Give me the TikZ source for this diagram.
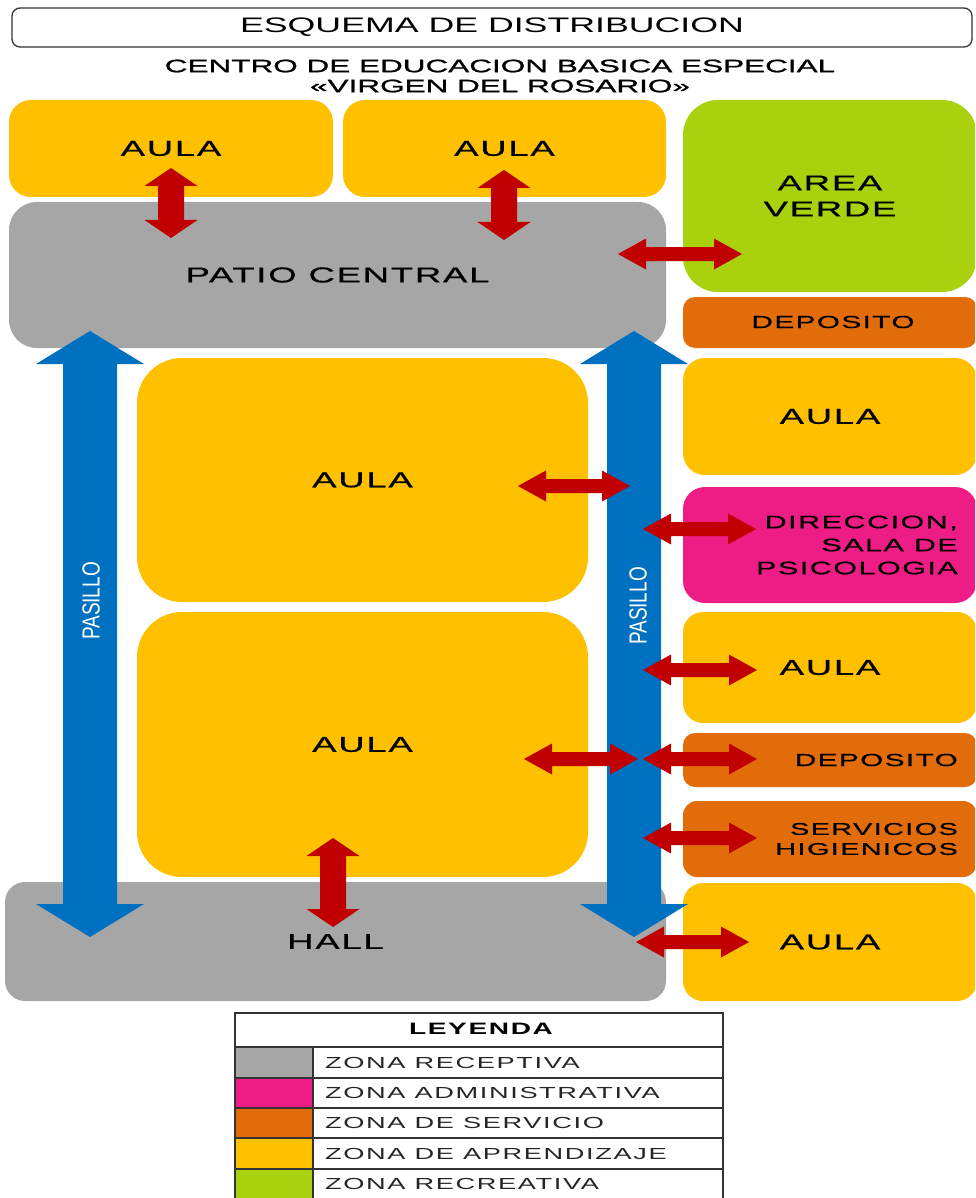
\documentclass[tikz,border=0pt]{standalone}
\usepackage{fontspec}
\setmainfont{Liberation Sans}
\newfontfamily\ttlfont[FakeStretch=1.7]{Liberation Sans}
\newfontfamily\subfont[FakeStretch=1.75,FakeBold=1.2]{Liberation Sans}
\newfontfamily\lblfont[FakeStretch=1.7,LetterSpace=8,FakeBold=0.6]{Liberation Sans}
\newfontfamily\legfont[FakeStretch=1.7,LetterSpace=10]{Liberation Sans}
\usetikzlibrary{calc}
\definecolor{aulaY}{HTML}{FFC000}
\definecolor{recG}{HTML}{A6A6A6}
\definecolor{verdeG}{HTML}{A9D10E}
\definecolor{servO}{HTML}{E36C0A}
\definecolor{adminP}{HTML}{EE1D85}
\definecolor{pasB}{HTML}{0070C0}
\definecolor{flechaR}{HTML}{C00000}
\definecolor{lineD}{HTML}{333333}
\newcommand\dblarrow[6][]{%
  \coordinate (h1) at ($(#2)!#4!(#3)$);
  \coordinate (h2) at ($(#3)!#4!(#2)$);
  \fill[#1] (#2) -- ($(h1)!#5!90:(#3)$) -- ($(h1)!#6!90:(#3)$) -- ($(h2)!#6!-90:(#2)$) -- ($(h2)!#5!-90:(#2)$) -- (#3)
    -- ($(h2)!#5!90:(#2)$) -- ($(h2)!#6!90:(#2)$) -- ($(h1)!#6!-90:(#3)$) -- ($(h1)!#5!-90:(#3)$) -- cycle;
}
\tikzset{
  room/.style={fill=#1, inner sep=0pt, text=black, font=\lblfont\fontsize{21.5}{26}\selectfont, align=center},
  lbl/.style={inner sep=0pt, text=black, font=\lblfont\fontsize{#1}{#1}\selectfont},
  pasillotxt/.style={rotate=90, text=white, inner sep=0pt, font=\fontsize{19}{19}\selectfont},
  legtxt/.style={anchor=west, inner sep=0pt, text=black!85, font=\legfont\fontsize{16}{16}\selectfont},
  legline/.style={draw=lineD, line width=1.8pt},
  redarrow/.style={fill=flechaR},
  bluearrow/.style={fill=pasB}
}
\begin{document}
\begin{tikzpicture}[x=1pt,y=-1pt]
\clip (0,0) rectangle (975,1198);
% title
\node[draw=lineD, line width=1.3pt, rounded corners=8pt, minimum width=960pt, minimum height=39pt, inner sep=0pt,
      font=\ttlfont\fontsize{21}{25}\selectfont] (title) at (492,27.5) {ESQUEMA DE DISTRIBUCION};
\node[align=center, inner sep=0pt, font=\subfont\fontsize{18}{20}\selectfont] (sub) at (500,76)
  {CENTRO DE EDUCACION BASICA ESPECIAL\\«VIRGEN DEL ROSARIO»};
% rooms
\node[room=aulaY, rounded corners=22pt, minimum width=324pt, minimum height=97pt] (aulaTL) at (171,148.5) {AULA};
\node[room=aulaY, rounded corners=22pt, minimum width=323pt, minimum height=97pt] (aulaTM) at (504.5,148.5) {AULA};
\node[room=verdeG, rounded corners=35pt, minimum width=294pt, minimum height=192pt] (verde) at (830,196) {AREA\\VERDE};
\node[room=recG, rounded corners=28pt, minimum width=657pt, minimum height=146pt] (patio) at (337.5,275) {PATIO CENTRAL};
\node[room=servO, rounded corners=12pt, minimum width=294pt, minimum height=51pt] (dep1) at (830,322.5) {};
\node[lbl=17.5] (dep1t) at (833,322) {DEPOSITO};
\node[room=aulaY, rounded corners=22pt, minimum width=294pt, minimum height=117pt] (aulaR1) at (830,416.5) {AULA};
\node[room=adminP, rounded corners=22pt, minimum width=294pt, minimum height=116pt] (dir) at (830,545) {};
\node[lbl=18, anchor=east, align=right, font=\lblfont\fontsize{18}{23}\selectfont] (dirt) at (958,545) {DIRECCION,\\SALA DE\\PSICOLOGIA};
\node[room=aulaY, rounded corners=20pt, minimum width=294pt, minimum height=111pt] (aulaR2) at (830,667.5) {AULA};
\node[room=servO, rounded corners=12pt, minimum width=294pt, minimum height=54pt] (dep2) at (830,760) {};
\node[lbl=17.5, anchor=east] (dep2t) at (958,760) {DEPOSITO};
\node[room=servO, rounded corners=14pt, minimum width=294pt, minimum height=76pt] (ss) at (830,839) {};
\node[lbl=17, anchor=east, align=right, font=\lblfont\fontsize{17}{20}\selectfont] (sst) at (958,839) {SERVICIOS\\HIGIENICOS};
\node[room=aulaY, rounded corners=20pt, minimum width=294pt, minimum height=118pt] (aulaR3) at (830,942) {AULA};
\node[room=recG, rounded corners=20pt, minimum width=661pt, minimum height=119pt] (hall) at (335.5,941.5) {HALL};
\node[room=aulaY, rounded corners=45pt, minimum width=451pt, minimum height=244pt] (aulaB1) at (362.5,480) {AULA};
\node[room=aulaY, rounded corners=45pt, minimum width=451pt, minimum height=265pt] (aulaB2) at (362.5,744.5) {AULA};
% pasillos (blue arrows)
\coordinate (b1a) at (90,331); \coordinate (b1b) at (90,937);
\coordinate (b2a) at (634,331); \coordinate (b2b) at (634,937);
\dblarrow[bluearrow]{b1a}{b1b}{33pt}{54pt}{27pt}
\dblarrow[bluearrow]{b2a}{b2b}{33pt}{54pt}{27pt}
\node[pasillotxt] (pas1) at (91,601) {\scalebox{1}[1.3]{PASILLO}};
\node[pasillotxt] (pas2) at (638,606) {\scalebox{1}[1.3]{PASILLO}};
% red arrows
\coordinate (r1a) at (171,168); \coordinate (r1b) at (171,238);
\coordinate (r2a) at (504,170); \coordinate (r2b) at (504,240);
\coordinate (r3a) at (618,254); \coordinate (r3b) at (742,254);
\coordinate (r4a) at (518,486); \coordinate (r4b) at (630,486);
\coordinate (r5a) at (643,529); \coordinate (r5b) at (756,529);
\coordinate (r6a) at (643,670); \coordinate (r6b) at (757,670);
\coordinate (r7a) at (524,759); \coordinate (r7b) at (638,759);
\coordinate (r8a) at (643,759); \coordinate (r8b) at (757,759);
\coordinate (r9a) at (643,838); \coordinate (r9b) at (757,838);
\coordinate (r10a) at (333,838); \coordinate (r10b) at (333,927);
\coordinate (r11a) at (636,942); \coordinate (r11b) at (749,942);
\dblarrow[redarrow]{r1a}{r1b}{18pt}{26.5pt}{13pt}
\dblarrow[redarrow]{r2a}{r2b}{18pt}{26.5pt}{13pt}
\dblarrow[redarrow]{r10a}{r10b}{18pt}{26.5pt}{13pt}
\dblarrow[redarrow]{r3a}{r3b}{28pt}{15.5pt}{7pt}
\dblarrow[redarrow]{r4a}{r4b}{28pt}{15.5pt}{7pt}
\dblarrow[redarrow]{r5a}{r5b}{28pt}{15.5pt}{7pt}
\dblarrow[redarrow]{r6a}{r6b}{28pt}{15.5pt}{7pt}
\dblarrow[redarrow]{r7a}{r7b}{28pt}{15.5pt}{7pt}
\dblarrow[redarrow]{r8a}{r8b}{28pt}{15.5pt}{7pt}
\dblarrow[redarrow]{r9a}{r9b}{28pt}{15.5pt}{7pt}
\dblarrow[redarrow]{r11a}{r11b}{28pt}{15.5pt}{7pt}
% legend
\fill[recG] (235,1047) rectangle (313,1078);
\fill[adminP] (235,1078) rectangle (313,1108);
\fill[servO] (235,1108) rectangle (313,1138);
\fill[aulaY] (235,1138) rectangle (313,1169);
\fill[verdeG] (235,1169) rectangle (313,1210);
\draw[legline] (235,1013) rectangle (723,1210);
\draw[legline] (235,1047) -- (723,1047);
\draw[legline] (235,1078) -- (723,1078);
\draw[legline] (235,1108) -- (723,1108);
\draw[legline] (235,1138) -- (723,1138);
\draw[legline] (235,1169) -- (723,1169);
\draw[legline] (313,1047) -- (313,1210);
\node[inner sep=0pt, font=\legfont\bfseries\fontsize{16.5}{16.5}\selectfont] (leg) at (481,1029) {LEYENDA};
\node[legtxt] (l1) at (325,1062.5) {ZONA RECEPTIVA};
\node[legtxt] (l2) at (325,1093) {ZONA ADMINISTRATIVA};
\node[legtxt] (l3) at (325,1123) {ZONA DE SERVICIO};
\node[legtxt] (l4) at (325,1153.5) {ZONA DE APRENDIZAJE};
\node[legtxt] (l5) at (325,1184) {ZONA RECREATIVA};
\end{tikzpicture}
\end{document}
